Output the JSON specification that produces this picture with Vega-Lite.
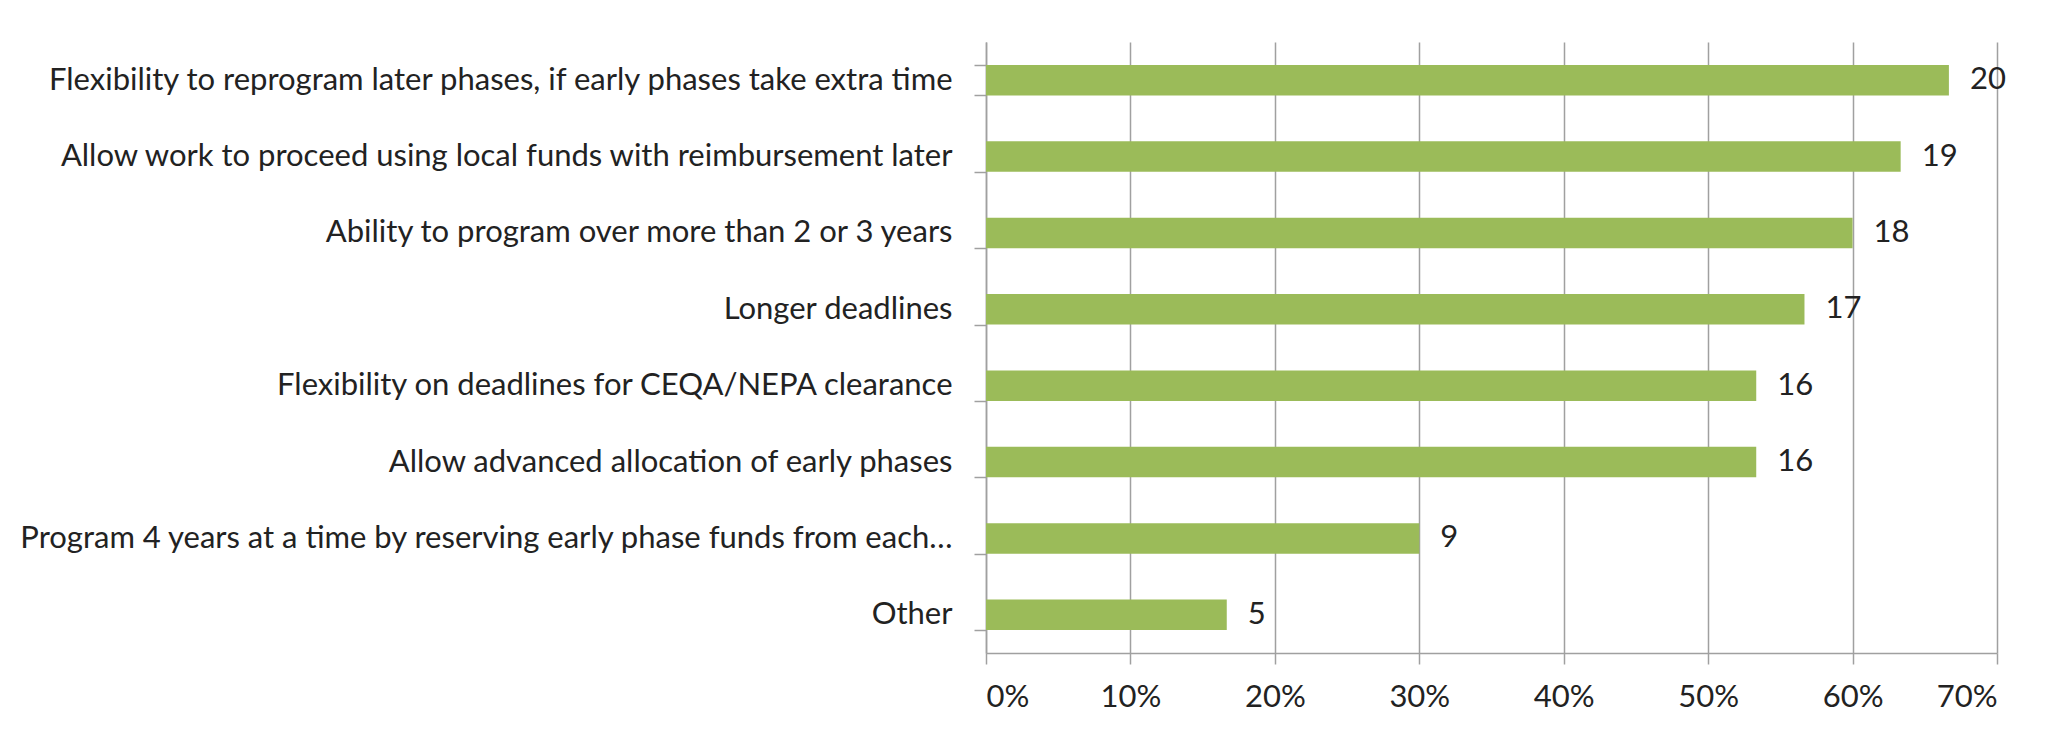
{
  "$schema": "https://vega.github.io/schema/vega-lite/v6.json",
  "autosize": {"type": "none"},
  "padding": {"left": 986, "top": 42, "right": 62, "bottom": 82},
  "width": 1011,
  "height": 611,
  "background": "white",
  "data": {
    "values": [
      {"option": "Flexibility to reprogram later phases, if early phases take extra time", "count": 20, "share": 0.6667},
      {"option": "Allow work to proceed using local funds with reimbursement later", "count": 19, "share": 0.6333},
      {"option": "Ability to program over more than 2 or 3 years", "count": 18, "share": 0.6},
      {"option": "Longer deadlines", "count": 17, "share": 0.5667},
      {"option": "Flexibility on deadlines for CEQA/NEPA clearance", "count": 16, "share": 0.5333},
      {"option": "Allow advanced allocation of early phases", "count": 16, "share": 0.5333},
      {"option": "Program 4 years at a time by reserving early phase funds from each…", "count": 9, "share": 0.3},
      {"option": "Other", "count": 5, "share": 0.1667}
    ]
  },
  "encoding": {
    "y": {
      "field": "option",
      "type": "nominal",
      "sort": null,
      "scale": {"paddingInner": 0.6, "paddingOuter": 0.3},
      "axis": {
        "title": null,
        "tickBand": "extent",
        "tickSize": 12,
        "tickColor": "#a0a0a0",
        "tickWidth": 1.5,
        "domainColor": "#a0a0a0",
        "domainWidth": 1.5,
        "labelPadding": 22,
        "labelLimit": 1100,
        "labelFont": "Lato",
        "labelFontSize": 31,
        "labelColor": "#222222",
        "grid": false
      }
    },
    "x": {
      "field": "share",
      "type": "quantitative",
      "scale": {"domain": [0, 0.7], "nice": false},
      "axis": {
        "title": null,
        "format": ".0%",
        "values": [0, 0.1, 0.2, 0.3, 0.4, 0.5, 0.6, 0.7],
        "grid": true,
        "gridColor": "#a0a0a0",
        "gridWidth": 1.5,
        "tickSize": 11,
        "tickColor": "#a0a0a0",
        "tickWidth": 1.5,
        "domainColor": "#a0a0a0",
        "domainWidth": 1.5,
        "labelPadding": 18,
        "labelFont": "Lato",
        "labelFontSize": 31,
        "labelColor": "#222222"
      }
    }
  },
  "layer": [
    {"mark": {"type": "bar", "color": "#9bbb59"}},
    {
      "mark": {"type": "text", "align": "left", "baseline": "middle", "dx": 21, "font": "Lato", "fontSize": 31, "color": "#222222"},
      "encoding": {"text": {"field": "count", "type": "quantitative"}}
    }
  ],
  "config": {"view": {"stroke": null}}
}
